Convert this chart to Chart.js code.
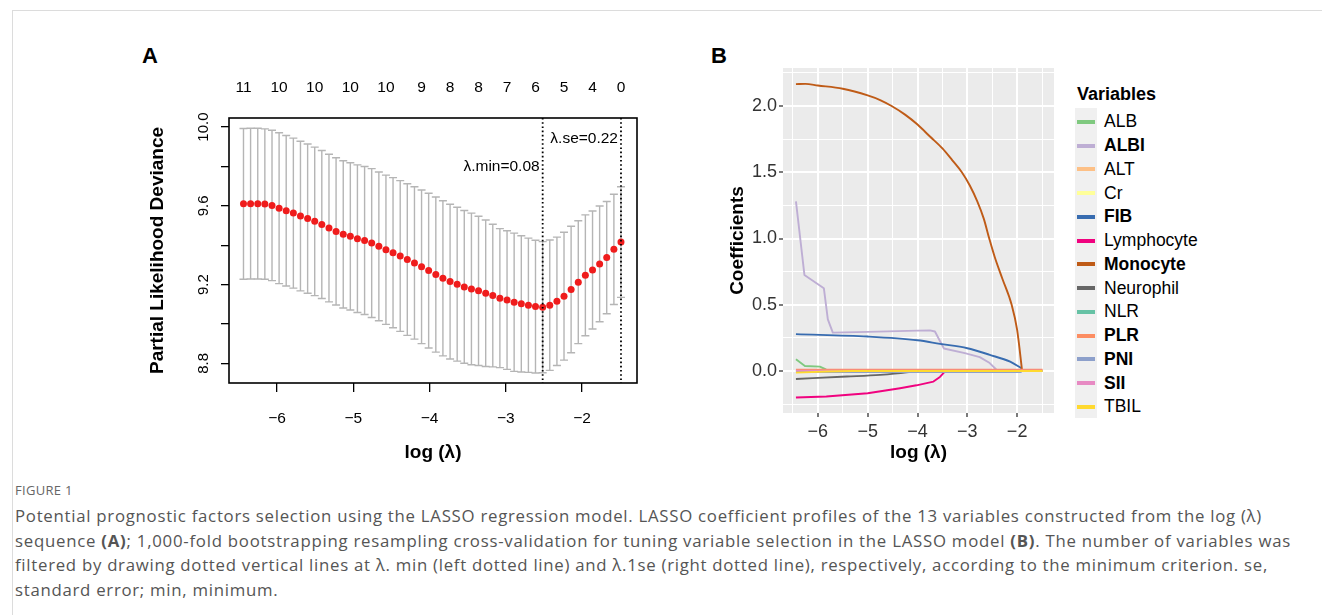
<!DOCTYPE html>
<html>
<head>
<meta charset="utf-8">
<script src="https://cdn.jsdelivr.net/npm/chart.js@4.4.1/dist/chart.umd.min.js"></script>
<style>
  body { margin: 0; width: 1322px; height: 615px; background: #fff; overflow: hidden; position: relative;
         font-family: "Liberation Sans", Arial, sans-serif; color: #000; }
  .frame { position: absolute; left: 12px; top: 10px; right: 0; bottom: 0;
           border-top: 1px solid #dcdcdc; border-left: 1px solid #dcdcdc; }
  canvas { position: absolute; }
  #chartA { left: 130px; top: 70px; }
  #chartB { left: 700px; top: 60px; }
  .panel { position: absolute; font-weight: bold; font-size: 22px; line-height: 26px; }
  #legend { position: absolute; left: 1075px; top: 82px; }
  #legend .ltitle { position: absolute; left: 2px; top: 0; font-weight: bold; font-size: 18px; line-height: 24px; white-space: nowrap; }
  #legend .keybg { position: absolute; left: 0; top: 26px; width: 22px; height: 310px; background: #f0f0f0; }
  #legend .row { position: absolute; left: 0; height: 24px; display: flex; align-items: center; white-space: nowrap; }
  #legend .key { width: 18px; height: 4px; margin-left: 2px; margin-right: 9px; }
  #legend .lab { font-size: 17.5px; }
  .fig { position: absolute; left: 15px; top: 481px; font-family: "Open Sans", sans-serif; font-size: 13px;
         color: #666; letter-spacing: 0.3px; }
  .caption { position: absolute; left: 15px; top: 504px; font-family: "Open Sans", sans-serif; font-size: 16.8px;
             line-height: 24.7px; color: #555; }
  .caption .ln { display: block; white-space: nowrap; }
</style>
</head>
<body>
<div class="frame"></div>
<div class="panel" style="left:142px; top:43px;">A</div>
<div class="panel" style="left:711px; top:43px;">B</div>
<canvas id="chartA" width="540" height="400"></canvas>
<canvas id="chartB" width="370" height="410"></canvas>
<div id="legend"><div class="ltitle">Variables</div><div class="keybg"></div></div>
<div class="fig">FIGURE 1</div>
<div class="caption">
<span class="ln">Potential prognostic factors selection using the LASSO regression model. LASSO coefficient profiles of the 13 variables constructed from the log (λ)</span>
<span class="ln">sequence <b>(A)</b>; 1,000-fold bootstrapping resampling cross-validation for tuning variable selection in the LASSO model <b>(B)</b>. The number of variables was</span>
<span class="ln">filtered by drawing dotted vertical lines at λ. min (left dotted line) and λ.1se (right dotted line), respectively, according to the minimum criterion. se,</span>
<span class="ln">standard error; min, minimum.</span>
</div>
<script>
// ---- panel A: cross-validation curve ----
const logLambda = [-6.440, -6.347, -6.253, -6.160, -6.066, -5.973, -5.880, -5.786, -5.693, -5.599,
  -5.506, -5.413, -5.319, -5.226, -5.132, -5.039, -4.946, -4.852, -4.759, -4.665,
  -4.572, -4.479, -4.385, -4.292, -4.198, -4.105, -4.012, -3.918, -3.825, -3.731,
  -3.638, -3.545, -3.451, -3.358, -3.264, -3.171, -3.078, -2.984, -2.891, -2.797,
  -2.704, -2.611, -2.517, -2.424, -2.330, -2.237, -2.144, -2.050, -1.957, -1.863,
  -1.770, -1.677, -1.583, -1.490];
const cvMean = [9.610, 9.611, 9.611, 9.609, 9.602, 9.588, 9.575, 9.563, 9.548, 9.535,
  9.521, 9.505, 9.487, 9.470, 9.455, 9.445, 9.433, 9.424, 9.411, 9.394,
  9.377, 9.362, 9.345, 9.327, 9.310, 9.290, 9.271, 9.251, 9.232, 9.215,
  9.202, 9.188, 9.178, 9.168, 9.156, 9.144, 9.131, 9.121, 9.110, 9.102,
  9.095, 9.088, 9.085, 9.095, 9.115, 9.141, 9.175, 9.212, 9.247, 9.274,
  9.305, 9.337, 9.379, 9.416];
const cvSd = [0.383, 0.383, 0.383, 0.382, 0.382, 0.383, 0.382, 0.381, 0.380, 0.379,
  0.377, 0.376, 0.375, 0.374, 0.374, 0.374, 0.375, 0.376, 0.378, 0.378,
  0.379, 0.381, 0.383, 0.385, 0.387, 0.390, 0.393, 0.394, 0.394, 0.393,
  0.391, 0.388, 0.385, 0.379, 0.372, 0.362, 0.353, 0.352, 0.351, 0.346,
  0.341, 0.337, 0.333, 0.331, 0.326, 0.325, 0.321, 0.312, 0.307, 0.300,
  0.294, 0.285, 0.280, 0.281];
const topTickIdx = [0, 5, 10, 15, 20, 25, 29, 33, 37, 41, 45, 49, 53];
const topTickLabels = ['11', '10', '10', '10', '10', '9', '8', '8', '7', '6', '5', '4', '0'];
const xTicksA = [-6, -5, -4, -3, -2];
const yTicksA = [8.8, 9.0, 9.2, 9.4, 9.6, 9.8, 10.0];
const yLabelsA = ['8.8', '', '9.2', '', '9.6', '', '10.0'];
const lambdaMinIdx = 42, lambdaSeIdx = 53;
const lambdaMinText = 'λ.min=0.08', lambdaSeText = 'λ.se=0.22';

// ---- panel B: coefficient paths ----
const varNames = ['ALB', 'ALBI', 'ALT', 'Cr', 'FIB', 'Lymphocyte', 'Monocyte', 'Neurophil', 'NLR', 'PLR', 'PNI', 'SII', 'TBIL'];
const selectedVars = ['ALBI', 'FIB', 'Monocyte', 'PLR', 'PNI', 'SII'];
const varColors = ['#7FC97F', '#BEAED4', '#FDC086', '#FFFF99', '#386CB0', '#F0027F', '#BF5B17', '#666666',
  '#66C2A5', '#FC8D62', '#8DA0CB', '#E78AC3', '#FFD92F'];
const smoothVars = ['FIB', 'Monocyte', 'Neurophil'];

// each path stops where the coefficient reaches zero; the zero stretch is under the flat lines
const albX = [-6.44, -6.26, -5.96, -5.84, -5.80];
const albY = [0.088, 0.038, 0.033, 0.012, 0];
const albiX = [-6.44, -6.27, -5.88, -5.80, -5.70, -5.0, -4.0, -3.75, -3.65, -3.47, -3.05, -2.75, -2.55, -2.39];
const albiY = [1.28, 0.725, 0.625, 0.39, 0.29, 0.295, 0.305, 0.307, 0.298, 0.17, 0.135, 0.105, 0.06, 0];
const altX = [-6.44, -1.49];
const altY = [0.004, 0.004];
const crX = [-6.44, -1.49];
const crY = [0, 0];
const fibX = [-6.44, -5.0, -4.0, -3.55, -3.0, -2.55, -2.14, -1.91];
const fibY = [0.278, 0.26, 0.232, 0.205, 0.172, 0.122, 0.07, 0.02];
const lymphX = [-6.44, -5.83, -5.0, -4.35, -4.02, -3.68, -3.55, -3.46, -3.43];
const lymphY = [-0.2, -0.193, -0.168, -0.13, -0.108, -0.08, -0.045, -0.008, 0];
const monoX = [-6.44, -6.25, -6.0, -5.5, -5.0, -4.75, -4.52, -4.25, -4.0, -3.75, -3.5, -3.3, -3.11,
  -2.95, -2.8, -2.67, -2.56, -2.45, -2.3, -2.11, -2.0, -1.90];
const monoY = [2.165, 2.167, 2.155, 2.13, 2.08, 2.045, 2.0, 1.935, 1.86, 1.77, 1.68, 1.59, 1.5,
  1.40, 1.28, 1.15, 1.0, 0.86, 0.70, 0.5, 0.31, 0];
const neutX = [-6.44, -5.42, -4.75, -4.22, -4.05];
const neutY = [-0.06, -0.042, -0.029, -0.01, 0];
const nlrX = [-6.44, -1.49];
const nlrY = [0, 0];
const plrX = [-6.44, -1.49];
const plrY = [0.01, 0.01];
const pniX = [-6.44, -1.91];
const pniY = [-0.008, -0.008];
const siiX = [-6.44, -1.49];
const siiY = [0.003, 0.003];
const tbilX = [-6.44, -5.8, -5.3, -1.49];
const tbilY = [-0.012, -0.004, 0, 0];

const pathsX = [albX, albiX, altX, crX, fibX, lymphX, monoX, neutX, nlrX, plrX, pniX, siiX, tbilX];
const pathsY = [albY, albiY, altY, crY, fibY, lymphY, monoY, neutY, nlrY, plrY, pniY, siiY, tbilY];
const gridXB = [-6.5, -6, -5.5, -5, -4.5, -4, -3.5, -3, -2.5, -2, -1.5];
const gridYB = [-0.25, 0, 0.25, 0.5, 0.75, 1.0, 1.25, 1.5, 1.75, 2.0, 2.25];

Chart.defaults.font.family = "'Liberation Sans', Arial, sans-serif";
Chart.defaults.color = '#000';

const minus = v => (v < 0 ? '\u2212' + Math.abs(v) : String(v));
const noPad = s => { s.paddingLeft = 0; s.paddingRight = 0; s.paddingTop = 0; s.paddingBottom = 0; };

const boxPlugin = {
  id: 'box',
  beforeDatasetsDraw(chart) {
    const {ctx, chartArea: a} = chart;
    ctx.save();
    ctx.strokeStyle = '#000';
    ctx.lineWidth = 1.6;
    ctx.strokeRect(a.left, a.top, a.right - a.left, a.bottom - a.top);
    ctx.restore();
  }
};

const errorBarPlugin = {
  id: 'errorBars',
  beforeDatasetsDraw(chart) {
    const {ctx, scales: {x, y}} = chart;
    ctx.save();
    ctx.strokeStyle = '#b5b5b5';
    ctx.lineWidth = 1.4;
    logLambda.forEach((v, i) => {
      const px = x.getPixelForValue(v);
      const top = y.getPixelForValue(cvMean[i] + cvSd[i]);
      const bot = y.getPixelForValue(cvMean[i] - cvSd[i]);
      ctx.beginPath();
      ctx.moveTo(px, top); ctx.lineTo(px, bot);
      ctx.moveTo(px - 4, top); ctx.lineTo(px + 4, top);
      ctx.moveTo(px - 4, bot); ctx.lineTo(px + 4, bot);
      ctx.stroke();
    });
    ctx.restore();
  }
};

const lambdaLinePlugin = {
  id: 'lambdaLines',
  afterDatasetsDraw(chart) {
    const {ctx, chartArea: a, scales: {x}} = chart;
    const marks = [[lambdaMinIdx, lambdaMinText, 97], [lambdaSeIdx, lambdaSeText, 69]];
    ctx.save();
    marks.forEach(([idx, text, ty]) => {
      const px = x.getPixelForValue(logLambda[idx]);
      ctx.strokeStyle = '#000';
      ctx.lineWidth = 1.8;
      ctx.setLineDash([1.6, 2.6]);
      ctx.beginPath();
      ctx.moveTo(px, a.top); ctx.lineTo(px, a.bottom);
      ctx.stroke();
      ctx.setLineDash([]);
      ctx.fillStyle = '#000';
      ctx.font = "15.5px 'Liberation Sans', Arial, sans-serif";
      ctx.textAlign = 'right';
      ctx.textBaseline = 'middle';
      ctx.fillText(text, px - 3, ty);
    });
    ctx.restore();
  }
};

new Chart(document.getElementById('chartA'), {
  type: 'scatter',
  data: {
    datasets: [{
      data: logLambda.map((v, i) => ({x: v, y: cvMean[i]})),
      pointRadius: 3.5,
      pointBackgroundColor: '#ef1c1c',
      pointBorderWidth: 0,
      showLine: false
    }]
  },
  options: {
    responsive: false,
    animation: false,
    layout: {padding: {right: 33}},
    plugins: {legend: {display: false}, tooltip: {enabled: false}},
    scales: {
      x: {
        type: 'linear', position: 'bottom', min: -6.63, max: -1.28,
        afterBuildTicks: s => { s.ticks = xTicksA.map(v => ({value: v})); },
        afterFit: s => { s.height = 87; noPad(s); },
        ticks: {callback: v => minus(v), font: {size: 15.5}, padding: 17, maxRotation: 0, autoSkip: false},
        grid: {drawOnChartArea: false, color: '#000', lineWidth: 1.3, tickLength: 9},
        border: {display: false},
        title: {display: true, text: 'log (λ)', font: {size: 19, weight: 'bold'}, padding: {top: 0, bottom: 6}}
      },
      xTop: {
        type: 'linear', position: 'top', min: -6.63, max: -1.28,
        afterBuildTicks: s => { s.ticks = topTickIdx.map(i => ({value: logLambda[i]})); },
        afterFit: s => { s.height = 48; noPad(s); },
        ticks: {callback: (v, i) => topTickLabels[i], font: {size: 15.5}, padding: 21, maxRotation: 0, autoSkip: false},
        grid: {drawOnChartArea: false, drawTicks: false},
        border: {display: false}
      },
      y: {
        type: 'linear', min: 8.70, max: 10.046,
        afterBuildTicks: s => { s.ticks = yTicksA.map(v => ({value: v})); },
        afterFit: s => { s.width = 99; noPad(s); },
        ticks: {callback: (v, i) => yLabelsA[i], font: {size: 15}, padding: 3, minRotation: 90, maxRotation: 90,
                crossAlign: 'center', autoSkip: false},
        grid: {drawOnChartArea: false, color: '#000', lineWidth: 1.3, tickLength: 8},
        border: {display: false},
        title: {display: true, text: 'Partial Likelihood Deviance', font: {size: 19, weight: 'bold'}, padding: {top: 16.6, bottom: 0}}
      }
    }
  },
  plugins: [errorBarPlugin, boxPlugin, lambdaLinePlugin]
});

const panelBg = {
  id: 'panelBg',
  beforeDraw(chart) {
    const {ctx, chartArea: a} = chart;
    ctx.save();
    ctx.fillStyle = '#ebebeb';
    ctx.fillRect(a.left, a.top, a.right - a.left, a.bottom - a.top);
    ctx.restore();
  }
};

const isMajorX = v => Number.isInteger(v);
const isMajorY = v => Math.abs(v * 2 - Math.round(v * 2)) < 1e-9;

new Chart(document.getElementById('chartB'), {
  type: 'scatter',
  data: {
    datasets: varNames.map((name, k) => ({
      label: name,
      data: pathsX[k].map((v, i) => ({x: v, y: pathsY[k][i]})),
      showLine: true,
      borderColor: varColors[k],
      borderWidth: 1.9,
      borderJoinStyle: 'round',
      cubicInterpolationMode: smoothVars.includes(name) ? 'monotone' : 'default',
      tension: 0,
      pointRadius: 0,
      order: varNames.length - k
    }))
  },
  options: {
    responsive: false,
    animation: false,
    layout: {padding: {right: 16, top: 8}},
    plugins: {legend: {display: false}, tooltip: {enabled: false}},
    scales: {
      x: {
        type: 'linear', min: -6.70, max: -1.26,
        afterBuildTicks: s => { s.ticks = gridXB.map(v => ({value: v})); },
        afterFit: s => { s.height = 57; noPad(s); },
        ticks: {callback: v => (isMajorX(v) ? minus(v) : ''), font: {size: 18}, color: '#333', padding: 4,
                maxRotation: 0, autoSkip: false},
        grid: {
          color: '#fff',
          lineWidth: c => (isMajorX(c.tick.value) ? 2 : 1),
          tickLength: 4,
          tickWidth: 1.3,
          tickColor: c => (isMajorX(c.tick.value) ? '#333' : 'rgba(0,0,0,0)')
        },
        border: {display: false},
        title: {display: true, text: 'log (λ)', font: {size: 19, weight: 'bold'}, padding: {top: 0, bottom: 6}}
      },
      y: {
        type: 'linear', min: -0.317, max: 2.287,
        afterBuildTicks: s => { s.ticks = gridYB.map(v => ({value: v})); },
        afterFit: s => { s.width = 83; noPad(s); },
        ticks: {callback: v => (isMajorY(v) ? v.toFixed(1) : ''), font: {size: 18}, color: '#333', padding: 2, autoSkip: false},
        grid: {
          color: '#fff',
          lineWidth: c => (isMajorY(c.tick.value) ? 2 : 1),
          tickLength: 4,
          tickWidth: 1.3,
          tickColor: c => (isMajorY(c.tick.value) ? '#333' : 'rgba(0,0,0,0)')
        },
        border: {display: false},
        title: {display: true, text: 'Coefficients', font: {size: 19, weight: 'bold'}, padding: {top: 26.6, bottom: 0}}
      }
    }
  },
  plugins: [panelBg]
});

// legend for panel B
const legend = document.getElementById('legend');
varNames.forEach((name, k) => {
  const row = document.createElement('div');
  row.className = 'row';
  row.style.top = (27.8 + k * 23.75) + 'px';
  const key = document.createElement('div');
  key.className = 'key';
  key.style.background = varColors[k];
  const lab = document.createElement('span');
  lab.className = 'lab';
  lab.textContent = name;
  if (selectedVars.includes(name)) lab.style.fontWeight = 'bold';
  row.appendChild(key);
  row.appendChild(lab);
  legend.appendChild(row);
});

// stretch the caption lines to the widths of the printed figure legend
const captionWidths = [1247, 1276, 1253, 0];
const lines = document.querySelectorAll('.caption .ln');
let lastSpacing = 0;
lines.forEach((ln, i) => {
  const n = ln.textContent.length;
  const range = document.createRange();
  range.selectNodeContents(ln);
  const w = range.getBoundingClientRect().width;
  if (captionWidths[i] > 0) {
    lastSpacing = (captionWidths[i] - w) / n;
  }
  ln.style.letterSpacing = lastSpacing.toFixed(3) + 'px';
});
</script>
</body>
</html>
